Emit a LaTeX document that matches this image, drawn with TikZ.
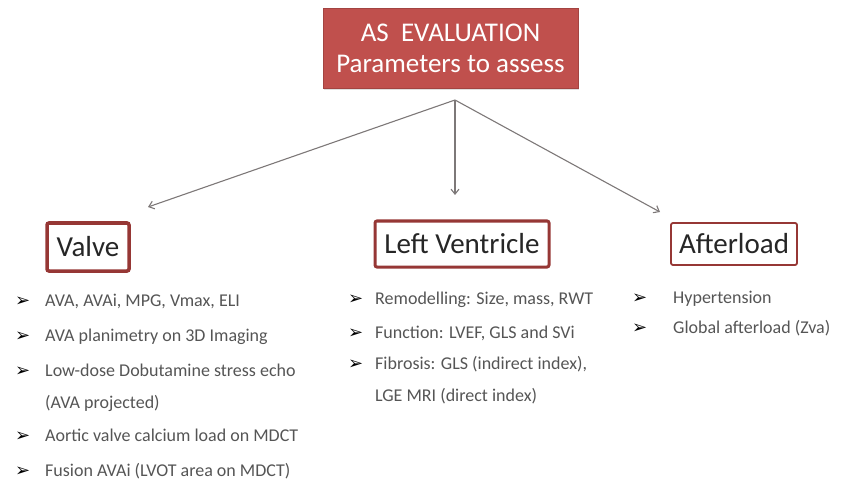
\documentclass[tikz,border=0pt]{standalone}
\usepackage{fontspec}
\setmainfont{Carlito}
\newfontfamily\dejavu{DejaVu Sans}
\usetikzlibrary{arrows.meta,shadows}

\definecolor{titlered}{RGB}{192,80,77}
\definecolor{boxred}{RGB}{150,55,53}
\definecolor{itemgray}{RGB}{85,85,85}
\definecolor{arrowgray}{RGB}{125,120,120}
\newcommand{\bul}[1]{\makebox[#1][l]{\color{black}\dejavu\fontsize{18}{18}\selectfont ➢}}

\begin{document}
\begin{tikzpicture}[x=1pt, y=-1pt,
        title/.style={fill=titlered, draw=titlered!85!black, text=white,
                      align=center, font=\fontsize{27}{31}\selectfont,
                      minimum width=255pt, minimum height=80pt, inner sep=0pt,
                      drop shadow={opacity=0.25, shadow xshift=1pt, shadow yshift=-2pt}},
        head/.style={draw=boxred, fill=white, rounded corners=2pt,
                     font=\fontsize{29}{32}\selectfont, text=black!85, inner sep=0pt},
        item/.style={anchor=base west, align=left, inner sep=0pt, text=itemgray,
                     font=\fontsize{18}{32}\selectfont},
        arr/.style={-{Straight Barb[length=5pt,width=8pt]}, draw=arrowgray, line width=1.1pt},
    ]
    \useasboundingbox (0,0) rectangle (843,489);

    % --- Title ---
    \node[title] (eval) at (450.5,48) {AS\ \ EVALUATION\\Parameters to assess};
    \coordinate (hub) at (455,100);

    % --- Headings ---
    \node[head, line width=3.5pt, minimum width=82pt, minimum height=48pt] (valve) at (88,247) {Valve};
    \node[head, line width=3pt, minimum width=174pt, minimum height=46pt] (lv) at (462,244) {Left Ventricle};
    \node[head, line width=1.8pt, minimum width=126pt, minimum height=42pt] (afl) at (734,244) {Afterload};

    % --- Arrows ---
    \coordinate (valvetip) at (148,207);
    \coordinate (lvtip) at (455,195);
    \coordinate (afltip) at (660,212);
    \draw[arr] (hub) -- (valvetip);
    \draw[arr] (hub) -- (lvtip);
    \draw[arr] (hub) -- (afltip);

    % --- Valve items ---
    \node[item] (v1) at (15,306) {\bul{30pt}AVA, AVAi, MPG, Vmax, ELI};
    \node[item] (v2) at (15,341) {\bul{30pt}AVA planimetry on 3D Imaging};
    \node[item] (v3) at (15,408) {\bul{30pt}Low-dose Dobutamine stress echo\\\hspace*{30pt}(AVA projected)};
    \node[item] (v4) at (15,441) {\bul{30pt}Aortic valve calcium load on MDCT};
    \node[item] (v5) at (15,476) {\bul{30pt}Fusion AVAi (LVOT area on MDCT)};

    % --- Left ventricle items ---
    \node[item] (lv1) at (348,304) {\bul{27pt}Remodelling: Size, mass, RWT};
    \node[item] (lv2) at (348,338) {\bul{27pt}Function: LVEF, GLS and SVi};
    \node[item] (lv3) at (348,401) {\bul{27pt}Fibrosis: GLS (indirect index),\\\hspace*{27pt}LGE MRI (direct index)};

    % --- Afterload items ---
    \node[item] (al1) at (632,303) {\bul{41pt}Hypertension};
    \node[item] (al2) at (632,333) {\bul{41pt}Global afterload (Zva)};
\end{tikzpicture}
\end{document}
